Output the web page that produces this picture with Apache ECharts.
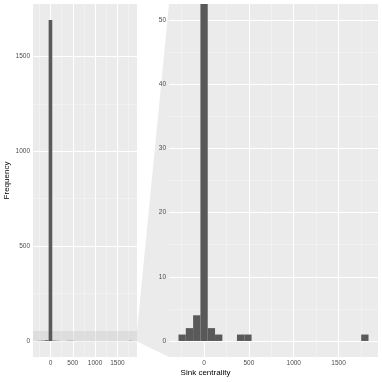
<!DOCTYPE html>
<html>
<head>
<meta charset="utf-8">
<script src="https://cdn.jsdelivr.net/npm/echarts@6/dist/echarts.min.js"></script>
<style>
html, body { margin: 0; padding: 0; background: #fff; }
#chart { width: 382px; height: 382px; }
</style>
</head>
<body>
<div id="chart"></div>
<script>
// histogram: bin centres and counts
var binCenters = [-244.5, -163, -81.5, 0, 81.5, 163, 407.5, 489, 1793];
var counts = [1, 2, 4, 1692, 2, 1, 1, 1, 1];
var binWidth = 81.5;

// ticks / grid lines
var xTicks = [0, 500, 1000, 1500];
var xMinor = [-250, 250, 750, 1250, 1750];
var yTicksFull = [0, 500, 1000, 1500];
var yMinorFull = [250, 750, 1250];
var yTicksZoom = [0, 10, 20, 30, 40, 50];
var yMinorZoom = [5, 15, 25, 35, 45];
var zoomRange = [0, 50];

var FONT = 'Liberation Sans';

// ggplot style expansion (5%)
var lo = binCenters[0] - binWidth / 2;
var hi = binCenters[binCenters.length - 1] + binWidth / 2;
var xMin = lo - 0.05 * (hi - lo);
var xMax = hi + 0.05 * (hi - lo);
var maxCount = Math.max.apply(null, counts);
var yFull = [-0.05 * maxCount, 1.05 * maxCount];
var zpad = 0.05 * (zoomRange[1] - zoomRange[0]);
var yZoom = [zoomRange[0] - zpad, zoomRange[1] + zpad];

var chart = echarts.init(document.getElementById('chart'));

function plain(v) { return String(v); }

function xAxisOpt(gi) {
	return {
		gridIndex: gi, type: 'value', min: xMin, max: xMax,
		axisLine: { show: false },
		axisTick: { customValues: xTicks, length: 2, lineStyle: { color: '#333' } },
		axisLabel: { customValues: xTicks, formatter: plain, fontSize: 6.5, color: '#4d4d4d', margin: 3, fontFamily: FONT },
		splitLine: { show: false }
	};
}
function yAxisOpt(gi, range, ticks) {
	return {
		gridIndex: gi, type: 'value', min: range[0], max: range[1],
		axisLine: { show: false },
		axisTick: { customValues: ticks, length: 2, lineStyle: { color: '#333' } },
		axisLabel: { customValues: ticks, formatter: plain, fontSize: 6.5, color: '#4d4d4d', margin: 3, fontFamily: FONT },
		splitLine: { show: false }
	};
}

function gridLines(gi, yMajor, yMinor) {
	var d = [];
	xMinor.forEach(function(v) { d.push({ xAxis: v, lineStyle: { width: 0.5, color: '#f7f7f7' } }); });
	yMinor.forEach(function(v) { d.push({ yAxis: v, lineStyle: { width: 0.5, color: '#f7f7f7' } }); });
	xTicks.forEach(function(v) { d.push({ xAxis: v, lineStyle: { width: 1, color: '#ffffff' } }); });
	yMajor.forEach(function(v) { d.push({ yAxis: v, lineStyle: { width: 1, color: '#ffffff' } }); });
	return {
		type: 'line', xAxisIndex: gi, yAxisIndex: gi, data: [], z: 1, silent: true,
		markLine: { z: 1, symbol: 'none', silent: true, label: { show: false }, lineStyle: { type: 'solid' }, animation: false, data: d }
	};
}

function renderBar(params, api) {
	var c = api.value(0), n = api.value(1);
	var p0 = api.coord([c - binWidth / 2, n]);
	var p1 = api.coord([c + binWidth / 2, 0]);
	var cs = params.coordSys;
	var rect = echarts.graphic.clipRectByRect(
		{ x: p0[0], y: p0[1], width: p1[0] - p0[0], height: p1[1] - p0[1] },
		{ x: cs.x, y: cs.y, width: cs.width, height: cs.height });
	return rect && { type: 'rect', shape: rect, style: { fill: '#595959' } };
}

var barData = binCenters.map(function(c, i) { return [c, counts[i]]; });

var option = {
	animation: false,
	backgroundColor: '#ffffff',
	grid: [
		{ left: 33, top: 4, width: 104, height: 353, show: true, backgroundColor: '#ebebeb', borderWidth: 0 },
		{ left: 169, top: 4, width: 209, height: 353, show: true, backgroundColor: '#ebebeb', borderWidth: 0 }
	],
	xAxis: [xAxisOpt(0), xAxisOpt(1)],
	yAxis: [
		Object.assign(yAxisOpt(0, yFull, yTicksFull), {
			name: 'Frequency', nameLocation: 'middle', nameRotate: 90, nameGap: 22,
			nameTextStyle: { fontSize: 8, color: '#000', fontFamily: FONT }
		}),
		yAxisOpt(1, yZoom, yTicksZoom)
	],
	series: [
		gridLines(0, yTicksFull, yMinorFull),
		gridLines(1, yTicksZoom, yMinorZoom),
		{
			type: 'line', xAxisIndex: 0, yAxisIndex: 0, data: [], z: 2, silent: true,
			markArea: {
				z: 2, silent: true,
				itemStyle: { color: 'rgba(190,190,190,0.3)' },
				data: [[{ yAxis: yZoom[0] }, { yAxis: yZoom[1] }]]
			}
		},
		{ type: 'custom', xAxisIndex: 0, yAxisIndex: 0, renderItem: renderBar, data: barData, z: 10 },
		{ type: 'custom', xAxisIndex: 1, yAxisIndex: 1, renderItem: renderBar, data: barData, z: 10 }
	]
};

chart.setOption(option);

// zoom connector and shared x title, placed from the axes' own scales
var a = chart.convertToPixel({ gridIndex: 0 }, [xMax, yZoom[1]]);
var b = chart.convertToPixel({ gridIndex: 0 }, [xMax, yZoom[0]]);
var c = chart.convertToPixel({ gridIndex: 1 }, [xMin, yZoom[1]]);
var d = chart.convertToPixel({ gridIndex: 1 }, [xMin, yZoom[0]]);
var leftEdge = chart.convertToPixel({ gridIndex: 0 }, [xMin, 0])[0];
var rightEdge = chart.convertToPixel({ gridIndex: 1 }, [xMax, 0])[0];

chart.setOption({
	graphic: [
		{
			type: 'polygon', z: -10, silent: true,
			shape: { points: [a, c, d, b] },
			style: { fill: 'rgba(190,190,190,0.3)' }
		},
		{
			type: 'text', silent: true,
			x: (leftEdge + rightEdge) / 2, y: 373,
			style: { text: 'Sink centrality', fontSize: 8, fill: '#000', fontFamily: FONT, align: 'center', verticalAlign: 'middle' }
		}
	]
});
</script>
</body>
</html>
